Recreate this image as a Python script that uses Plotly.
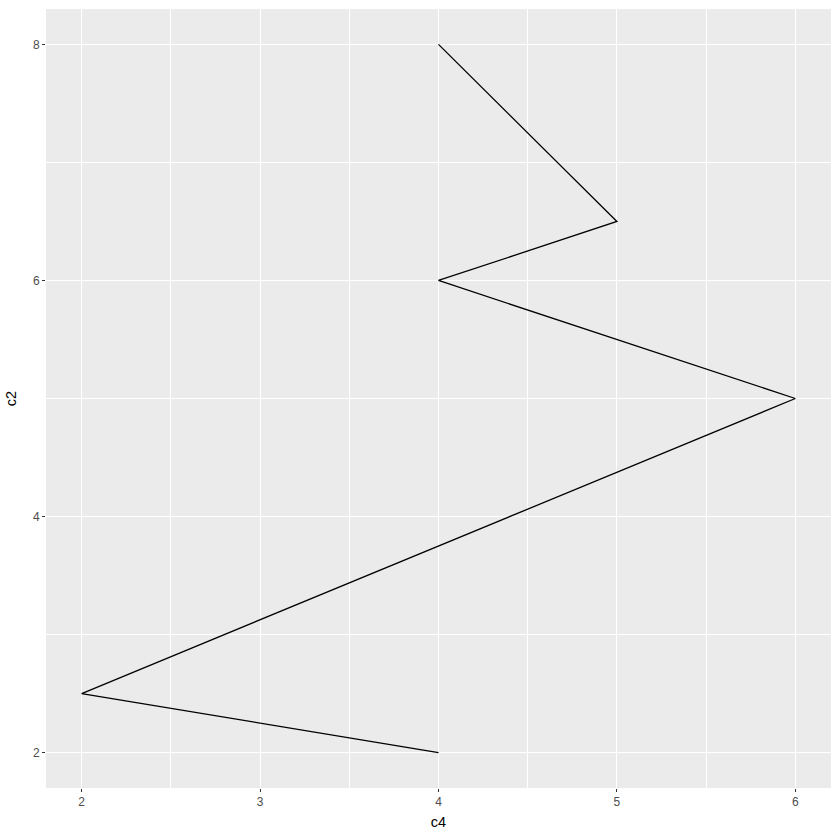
import plotly.graph_objects as go

# path order as drawn
c4 = [4, 2, 6, 4, 5, 4]
c2 = [2, 2.5, 5, 6, 6.5, 8]

fig = go.Figure(
    go.Scatter(
        x=c4,
        y=c2,
        mode="lines",
        line=dict(color="black", width=1.3),
        showlegend=False,
    )
)

axis_style = dict(
    showgrid=True,
    gridcolor="white",
    gridwidth=1.4,
    zeroline=False,
    showline=False,
    ticks="outside",
    ticklen=3,
    tickwidth=1.1,
    tickcolor="#333333",
    tickfont=dict(family="Liberation Sans, Arial", size=12, color="#4D4D4D"),
    title_font=dict(family="Liberation Sans, Arial", size=14.5, color="black"),
)

fig.update_xaxes(
    axis_style,
    range=[1.8, 6.2],
    tickvals=[2, 3, 4, 5, 6],
    minor=dict(tickvals=[2.5, 3.5, 4.5, 5.5], showgrid=True, gridcolor="white", gridwidth=0.6, ticks=""),
    title_text="c4",
    title_standoff=8,
)
fig.update_yaxes(
    axis_style,
    range=[1.7, 8.3],
    tickvals=[2, 4, 6, 8],
    minor=dict(tickvals=[3, 5, 7], showgrid=True, gridcolor="white", gridwidth=0.6, ticks=""),
    title_text="c2",
    title_standoff=12,
)

fig.update_layout(
    width=840,
    height=840,
    paper_bgcolor="white",
    plot_bgcolor="#EBEBEB",
    margin=dict(l=46, r=9, t=9, b=52, autoexpand=False),
)

fig.write_html(
    "out.html",
    config={"displayModeBar": False},
    post_script="document.body.style.margin='0';",
)
